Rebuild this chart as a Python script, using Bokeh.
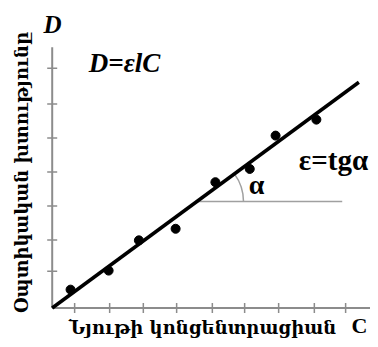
import math
from bokeh.plotting import figure
from bokeh.models import Range1d, Label
from bokeh.embed import file_html
from bokeh.resources import INLINE

# ---- data (arbitrary units: concentration C, optical density D) ----
conc = [0.54, 1.66, 2.55, 3.63, 4.80, 5.81, 6.57, 7.77]
density = [0.54, 1.10, 1.99, 2.33, 3.70, 4.09, 5.07, 5.54]
fit_slope = 0.736          # epsilon * l
fit_end_conc = 9.02
x_ticks = [0.66, 1.69, 2.68, 3.66, 4.71, 5.66, 6.66, 7.71, 8.63]
y_ticks = [1.08, 2.0, 3.0, 4.0, 5.0, 6.0, 7.05]
x_axis_end = 9.62
y_axis_end = 7.67
angle_ref_end = 8.53

x_title = "Նյութի կոնցենտրացիան"
y_title = "Օպտիկական խտությունը"

# ---- layout helpers (pixel <-> data, 34 px per unit) ----
PX = 34.0
OX, OY = 51.7, 307.5      # origin in picture pixels
W, H = 370, 339


def X(px):
    return (px - OX) / PX


def Y(py):
    return (OY - py) / PX


p = figure(width=W, height=H, output_backend="svg", toolbar_location=None,
           x_range=Range1d(X(0), X(W)), y_range=Range1d(Y(H), Y(0)),
           min_border=0)
p.axis.visible = False
p.grid.visible = False
p.outline_line_color = None
p.background_fill_color = "white"

axis_col = "#8c8c8c"
tk = 5 / PX
# axes
p.segment(x0=[0, 0], y0=[0, 0], x1=[x_axis_end, 0], y1=[0, y_axis_end],
          line_color=axis_col, line_width=2)
p.segment(x0=x_ticks, y0=[-tk] * len(x_ticks), x1=x_ticks, y1=[tk] * len(x_ticks),
          line_color=axis_col, line_width=1.5)
p.segment(x0=[-tk] * len(y_ticks), y0=y_ticks, x1=[tk] * len(y_ticks), y1=y_ticks,
          line_color=axis_col, line_width=1.5)

# angle construction
y_ref = 3.13
x_ref = y_ref / fit_slope
p.segment(x0=[x_ref], y0=[y_ref], x1=[angle_ref_end], y1=[y_ref],
          line_color="#a0a0a0", line_width=1.5)
p.arc(x=[x_ref], y=[y_ref], radius=46.7, radius_units="screen",
      start_angle=0, end_angle=math.atan(fit_slope),
      line_color="#a0a0a0", line_width=1.5)

# fit line and points
p.line([0, fit_end_conc], [0, fit_slope * fit_end_conc], line_color="black", line_width=3.5)
p.scatter(conc, density, size=9, fill_color="black", line_color="black")

serif = "Liberation Serif"
arm = "DejaVu Serif"


def lab(text, px, py, size, style="bold", font=serif, align="center", angle=0):
    p.add_layout(Label(x=X(px), y=Y(py), text=text, text_font=font,
                       text_font_size=f"{size}px", text_font_style=style,
                       text_align=align, text_baseline="middle", angle=angle,
                       text_color="black"))


lab("D", 52, 24, 25, "bold italic")
lab("D=εlC", 124, 62, 27, "bold italic")
lab("ε=tgα", 333, 159, 29, "bold")
lab("α", 256, 184, 28, "bold")
lab("C", 367, 325, 22, "bold", align="right")
lab(x_title, 202, 327, 18, "bold", font=arm)
lab(y_title, 21, 172, 18, "bold", font=arm, angle=math.pi / 2)

open("out.html", "w").write(file_html(p, INLINE))
